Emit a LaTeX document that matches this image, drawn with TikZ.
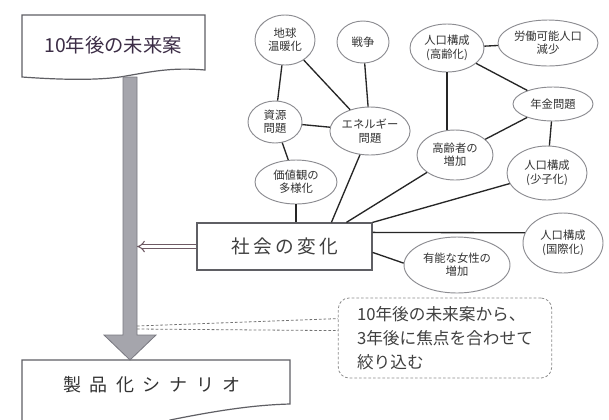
\documentclass[tikz,border=0pt]{standalone}
\usepackage{fontspec}
\newfontfamily\jp{Noto Sans CJK JP}
\usetikzlibrary{shapes.geometric,arrows.meta,calc}
\definecolor{edgec}{RGB}{95,95,100}
\definecolor{ellc}{RGB}{140,140,145}
\definecolor{shaftc}{RGB}{165,165,172}
\definecolor{shaftd}{RGB}{120,120,128}
\definecolor{txtc}{RGB}{60,45,70}
\definecolor{arrc}{RGB}{110,90,100}
\begin{document}
\begin{tikzpicture}[x=0.75pt,y=-0.75pt,font=\jp,
  el/.style={ellipse, draw=ellc, line width=0.7pt, inner sep=0pt, align=center,
    font=\jp\fontsize{8.5}{10}\selectfont, text=black!80},
  conn/.style={draw=black!85, line width=1pt},
  boxline/.style={draw=edgec, line width=0.9pt},
  pointer/.style={draw=black!55, line width=0.6pt, dash pattern=on 2pt off 1.5pt}]
\useasboundingbox (0,0) rectangle (609,419);
\clip (0,0) rectangle (609,419);
\fill[white] (0,0) rectangle (609,419);

% top document box
\draw[boxline, fill=white] (22,15) -- (205,15) -- (205,70)
  .. controls (170,67) and (150,72) .. (120,77)
  .. controls (90,81) and (50,79) .. (22,77) -- cycle;
\node[font=\jp\fontsize{14.5}{16}\selectfont, text=txtc] (topt) at (113,45) {10年後の未来案};

% bottom document box
\draw[boxline, fill=white] (22,360) -- (290,360) -- (290,404)
  .. controls (250,405) and (210,412) .. (170,420) -- (170,430) -- (22,430) -- cycle;
\node[font=\jp\fontsize{13.5}{16}\selectfont, text=black!80] (bott) at (152,385)
  {製\hspace{6.5pt}品\hspace{6.5pt}化\hspace{6.5pt}シ\hspace{6.5pt}ナ\hspace{6.5pt}リ\hspace{6.5pt}オ};

% big downward arrow
\draw[draw=shaftd, fill=shaftc, line width=0.6pt]
  (123,77) -- (137,77) -- (137,335) -- (156,335) -- (130,360) -- (104,335) -- (123,335) -- cycle;

% central box
\node[boxline, fill=white, minimum width=131.25pt, minimum height=35.25pt,
  font=\jp\fontsize{14}{16}\selectfont, text=black!75] (henka) at (284.5,246.5)
  {社\hspace{2.5pt}会\hspace{2.5pt}の\hspace{2.5pt}変\hspace{2.5pt}化};
\coordinate (shaftR) at (137,246.5);
\draw[arrc, double=white, double distance=2.2pt, line width=0.8pt,
  -{Implies[length=8pt]}] (henka.west) -- (shaftR);

% ellipses
\node[el, minimum width=45pt, minimum height=37.5pt] (chikyu) at (285,40) {地球\\温暖化};
\node[el, minimum width=39pt, minimum height=31.5pt] (senso) at (363,42) {戦争};
\node[el, minimum width=55.5pt, minimum height=36pt] (korei) at (447,48) {人口構成\\(高齢化)};
\node[el, minimum width=75pt, minimum height=34.5pt] (rodo) at (548,43) {労働可能人口\\減少};
\node[el, minimum width=40.5pt, minimum height=31.5pt] (shigen) at (275,122) {資源\\問題};
\node[el, minimum width=49.5pt, minimum height=36pt] (energy) at (370,131) {エネルギー\\問題};
\node[el, minimum width=60pt, minimum height=25.5pt] (nenkin) at (553,104) {年金問題};
\node[el, minimum width=57pt, minimum height=37.5pt] (koreisha) at (455,155) {高齢者の\\増加};
\node[el, minimum width=60pt, minimum height=40.5pt] (shoshi) at (547,173) {人口構成\\(少子化)};
\node[el, minimum width=61.5pt, minimum height=33pt] (kachi) at (296,182) {価値観の\\多様化};
\node[el, minimum width=60pt, minimum height=45pt] (kokusai) at (563,243) {人口構成\\(国際化)};
\node[el, minimum width=79.5pt, minimum height=42pt] (josei) at (457,265) {有能な女性の\\増加};

% connectors
\draw[conn] (chikyu) -- (shigen);
\draw[conn] (chikyu) -- (energy);
\draw[conn] (senso) -- (energy);
\draw[conn] (shigen) -- (energy);
\draw[conn] (shigen) -- (kachi);
\draw[conn] (kachi.south) -- (kachi.south |- henka.north);
\draw[conn] (energy) -- ($(henka.north west)+(135,0)$);
\draw[conn] (koreisha) -- ($(henka.north west)+(150,0)$);
\draw[conn] (shoshi) -- (henka.north east);
\draw[conn] ($(henka.north east)+(0,10)$) -- (kokusai.165);
\draw[conn] ($(henka.north east)+(0,30)$) -- (josei.178);
\draw[conn] (korei) -- (rodo);
\draw[conn] (korei) -- (nenkin);
\draw[conn] (korei.south) -- (korei.south |- koreisha.north);
\draw[conn] (nenkin) -- (koreisha);
\draw[conn] (nenkin) -- (shoshi);

% callout
\node[draw=black!45, dash pattern=on 2pt off 1.5pt, line width=0.6pt, rounded corners=8pt,
  align=left, inner sep=6pt, font=\jp\fontsize{12.5}{18}\selectfont, text=black!75,
  minimum width=160pt, minimum height=60pt] (note) at (445,338)
  {10年後の未来案から、\\3年後に焦点を合わせて\\絞り込む};
\coordinate (ptip1) at (137,326);
\coordinate (ptip2) at (137,329);
\draw[pointer] (ptip1) -- ($(note.north west)+(0,21)$);
\draw[pointer] (ptip2) -- ($(note.north west)+(0,33)$);
\end{tikzpicture}
\end{document}
